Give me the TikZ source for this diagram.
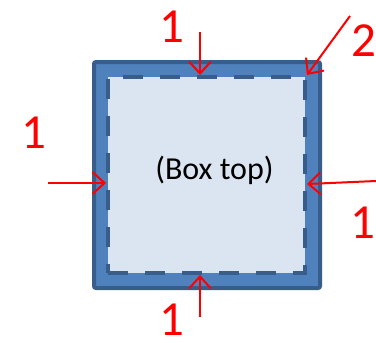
\documentclass[tikz,border=0pt]{standalone}
\usepackage{fontspec}
\setmainfont{Carlito}
\usetikzlibrary{arrows.meta,calc}
\definecolor{boxdark}{RGB}{56,93,138}
\definecolor{boxmid}{RGB}{79,129,189}
\definecolor{boxlight}{RGB}{219,229,241}
\tikzset{
  outerbox/.style={draw=boxdark,fill=boxmid,line width=4pt,rounded corners=2pt},
  innerbox/.style={draw=boxdark,fill=boxlight,line width=4pt,dash pattern=on 20pt off 17pt,
    minimum width=197pt,minimum height=196pt,inner sep=0pt},
  num/.style={text=red,font=\fontsize{49}{49}\selectfont,inner sep=0pt},
  marker/.style={draw=red,line width=2pt,-{Straight Barb[length=12pt,width=22pt,line width=2pt]}}
}
\begin{document}
\begin{tikzpicture}[x=1pt,y=-1pt]
\useasboundingbox (0,0) rectangle (376,343);
\draw[outerbox] (94,62) rectangle (320,288);
\node[innerbox] (inner) at (206.5,175) {};
\node[font=\fontsize{32}{32}\selectfont] (label) at (214.5,170) {(Box top)};
% numbers
\node[num] (ntop) at (172,27) {1};
\node[num] (ncorner) at (364,41) {2};
\node[num] (nleft) at (34,133) {1};
\node[num] (nright) at (363,223) {1};
\node[num] (nbottom) at (172,320) {1};
% arrow tails
\coordinate (ttop) at (200,32);
\coordinate (tcorner) at (350,16);
\coordinate (tleft) at (48,183);
\coordinate (tright) at (376,181);
\coordinate (tbottom) at (200,317);
\draw[marker] (ttop) -- (inner.north -| ttop);
\draw[marker] (tcorner) -- (inner.north east);
\draw[marker] (tleft) -- ($(inner.west)+(0,8)$);
\draw[marker] (tright) -- ($(inner.east)+(0,9)$);
\draw[marker] (tbottom) -- (inner.south -| tbottom);
\end{tikzpicture}
\end{document}
